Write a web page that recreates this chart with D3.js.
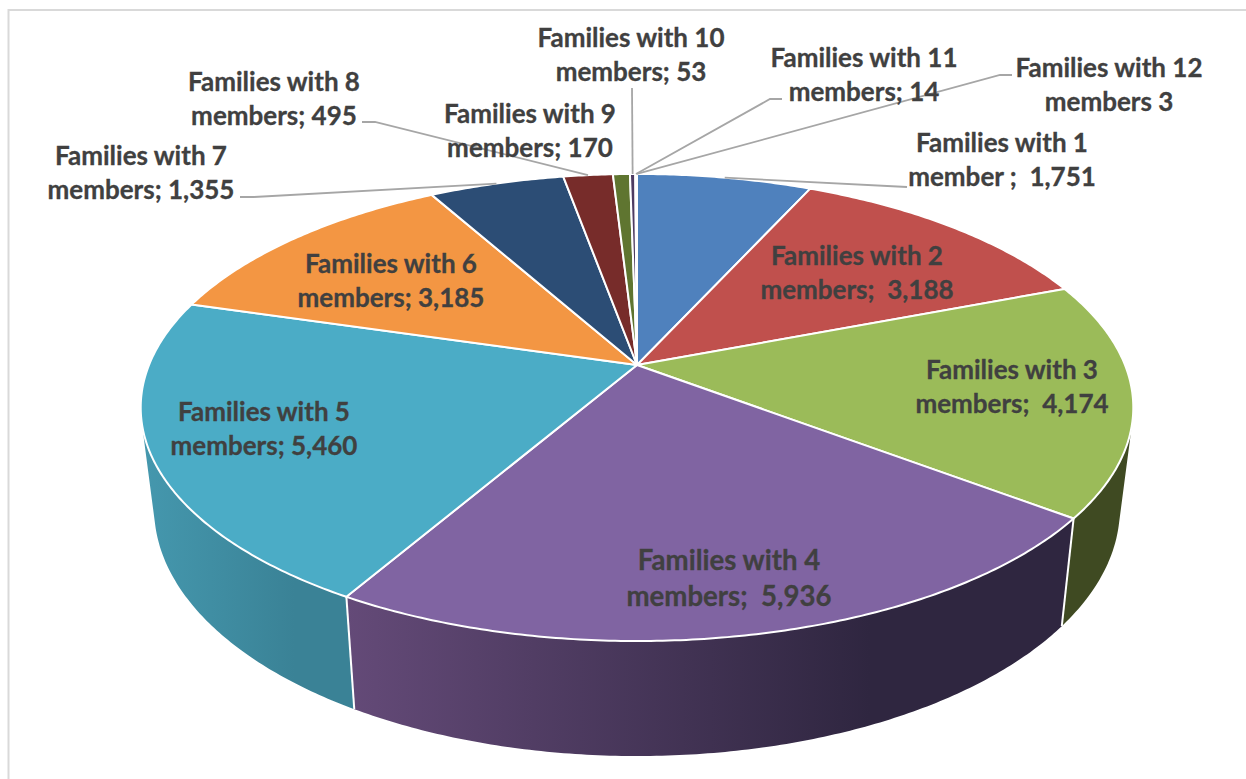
<!DOCTYPE html>
<html>
<head>
<meta charset="utf-8">
<script src="https://cdn.jsdelivr.net/npm/d3@7"></script>
<style>
  html, body { margin: 0; padding: 0; background: #fff; }
  svg { display: block; }
  text { font-family: Lato, "Open Sans", sans-serif; font-weight: 700; fill: #404040; stroke: #404040; stroke-width: 0.3px; white-space: pre; }
</style>
</head>
<body>
<div id="chart"></div>
<script>
var familySize = [1, 2, 3, 4, 5, 6, 7, 8, 9, 10, 11, 12];
var familyCount = [1751, 3188, 4174, 5936, 5460, 3185, 1355, 495, 170, 53, 14, 3];
var lineOne = ["Families with 1", "Families with 2", "Families with 3", "Families with 4", "Families with 5", "Families with 6",
    "Families with 7", "Families with 8", "Families with 9", "Families with 10", "Families with 11", "Families with 12"];
var lineTwoPrefix = ["member ;  ", "members;  ", "members;  ", "members;  ", "members; ", "members; ",
    "members; ", "members; ", "members; ", "members; ", "members; ", "members "];

var topColors = ["#4f81bd", "#c0504d", "#9bbb59", "#8064a2", "#4bacc6", "#f39643",
    "#2c4d75", "#772c2a", "#5f7530", "#4d3b62", "#276a7c", "#b65708"];
var wallLeft = ["#3b618e", "#903c3a", "#3f4a22", "#644a78", "#4598ae", "#b97034",
    "#213a58", "#591f1f", "#475824", "#3a2c4a", "#1d505d", "#884106"];
var wallRight = ["#3b618e", "#903c3a", "#3f4a22", "#2f2640", "#3a8296", "#b97034",
    "#213a58", "#591f1f", "#475824", "#3a2c4a", "#1d505d", "#884106"];

// label layout: centre x, middle of first line, font size and the leader's elbow points (none for inside labels)
var labelX = [1002, 857, 1012, 729, 264, 391, 141, 274, 530, 631, 864, 1109];
var labelY = [142, 255, 369, 559, 411, 263, 155, 81, 113, 37, 57, 67];
var labelSize = [26, 26, 26, 27.6, 26, 26, 26, 26, 26, 26, 26, 26];
var leaderPoints = [
    [[907, 187]], null, null, null, null, null,
    [[240, 197], [254, 197]],
    [[362, 122], [375, 122]],
    null,
    [[632, 88]],
    [[782, 99], [770, 99]],
    [[1012, 75], [1000, 75]]
];

var width = 1246, height = 779;

var svg = d3.select("#chart").append("svg")
    .attr("width", width)
    .attr("height", height);

svg.append("path")
    .attr("d", "M" + width + ",10H8.5V" + height)
    .attr("fill", "none")
    .attr("stroke", "#d9d9d9")
    .attr("stroke-width", 2);

// the pie is a tilted disc, so the hub sits above the middle of the ellipse
var tilt = 0.182;
var x = d3.scaleLinear().domain([-1, 1]).range([149, 1125]);
var y = d3.scaleLinear().domain([-1, 1]).range([139.2, 590.8]);

function project(angle) {
    var u = Math.sin(angle), v = -Math.cos(angle), w = 1 - tilt * v;
    return [x(u / w), y(v / w)];
}

// bottom rim of the wall
var bottomX = d3.scaleLinear().domain([149, 1125]).range([162.2, 1111.8]);
var bottomY = d3.scaleLinear().domain([365, 641]).range([463.4, 756]);

function projectBottom(angle) {
    var p = project(angle);
    return [bottomX(p[0]), bottomY(p[1])];
}

function arcAngles(d) {
    var n = Math.max(2, Math.ceil((d.endAngle - d.startAngle) / 0.01));
    return d3.range(n + 1).map(function(i) {
        return d.startAngle + (d.endAngle - d.startAngle) * i / n;
    });
}

var pie = d3.pie().sort(null).value(function(d) { return d; });
var slices = pie(familyCount);
var line = d3.line();
var hub = [x(0), y(0)];

// wall as one path of small quads, all wound the same way so the tangent edge fills in
function wallPath(d) {
    var a = arcAngles(d), out = "";
    for (var i = 0; i < a.length - 1; i++) {
        var quad = [project(a[i]), project(a[i + 1]), projectBottom(a[i + 1]), projectBottom(a[i])];
        if (d3.polygonArea(quad) < 0) quad.reverse();
        out += line(quad) + "Z";
    }
    return out;
}

var defs = svg.append("defs");
var gradients = defs.selectAll("linearGradient")
    .data(slices)
  .enter().append("linearGradient")
    .attr("id", function(d, i) { return "wall" + i; });
gradients.append("stop")
    .attr("offset", 0)
    .attr("stop-color", function(d, i) { return wallLeft[i]; });
gradients.append("stop")
    .attr("offset", 0.72)
    .attr("stop-color", function(d, i) { return wallRight[i]; });

// walls first, top faces cover whatever is not visible
svg.selectAll(".wall")
    .data(slices)
  .enter().append("path")
    .attr("class", "wall")
    .attr("fill", function(d, i) { return "url(#wall" + i + ")"; })
    .attr("d", wallPath);

// white seams between the walls
svg.selectAll(".seam")
    .data(slices.filter(function(d) { return d.index == 3 || d.index == 4; }))
  .enter().append("line")
    .attr("class", "seam")
    .attr("stroke", "#fff")
    .attr("stroke-width", 2)
    .attr("x1", function(d) { return project(d.startAngle)[0]; })
    .attr("y1", function(d) { return project(d.startAngle)[1]; })
    .attr("x2", function(d) { return projectBottom(d.startAngle)[0]; })
    .attr("y2", function(d) { return projectBottom(d.startAngle)[1]; });

svg.selectAll(".face")
    .data(slices)
  .enter().append("path")
    .attr("class", "face")
    .attr("fill", function(d, i) { return topColors[i]; })
    .attr("stroke", "#fff")
    .attr("stroke-width", 2)
    .attr("stroke-linejoin", "round")
    .attr("d", function(d) {
        return line([hub].concat(arcAngles(d).map(project))) + "Z";
    });

// leader lines run from the label to the rim at the middle of the slice
svg.selectAll(".leader")
    .data(slices.filter(function(d) { return leaderPoints[d.index]; }))
  .enter().append("path")
    .attr("class", "leader")
    .attr("fill", "none")
    .attr("stroke", "#a6a6a6")
    .attr("stroke-width", 1.8)
    .attr("d", function(d) {
        var mid = (d.startAngle + d.endAngle) / 2;
        return line(leaderPoints[d.index].concat([project(mid)]));
    });

var label = svg.selectAll(".label")
    .data(slices)
  .enter().append("text")
    .attr("class", "label")
    .attr("text-anchor", "middle")
    .attr("font-size", function(d) { return labelSize[d.index]; })
    .attr("xml:space", "preserve");

label.append("tspan")
    .attr("x", function(d) { return labelX[d.index]; })
    .attr("y", function(d) { return labelY[d.index]; })
    .attr("dominant-baseline", "central")
    .text(function(d) { return lineOne[d.index]; });

label.append("tspan")
    .attr("x", function(d) { return labelX[d.index]; })
    .attr("y", function(d) { return labelY[d.index] + labelSize[d.index] * 1.31; })
    .attr("dominant-baseline", "central")
    .text(function(d) { return lineTwoPrefix[d.index] + d3.format(",")(familyCount[d.index]); });
</script>
</body>
</html>
